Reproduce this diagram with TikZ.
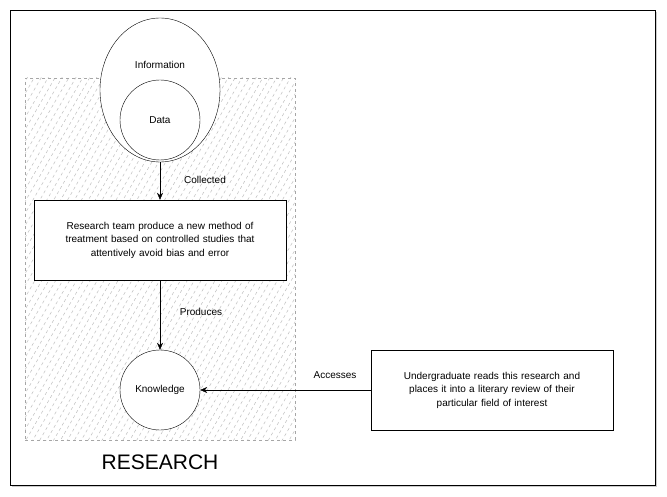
\documentclass[tikz,border=0pt]{standalone}
\usepackage{fontspec}
\setmainfont{Liberation Sans}
\usetikzlibrary{patterns.meta,arrows.meta,shadows,shapes.geometric}
\begin{document}
\begin{tikzpicture}[x=1pt,y=-1pt,
  txt/.style={font=\fontsize{10}{13.5}\selectfont,align=center},
  arr/.style={-{Stealth[length=7pt,width=6pt]},black},
  lbl/.style={font=\fontsize{10}{12}\selectfont}]
\useasboundingbox (0,0) rectangle (667,497);
\fill[white] (0,0) rectangle (667,497);
\node[draw,minimum width=645pt,minimum height=475pt,drop shadow={shadow xshift=2pt,shadow yshift=-2pt,opacity=0.4},fill=white] (frame) at (332.5,247.5) {};
\node[draw=gray!70,dashed,pattern={Lines[angle=60,distance=6pt,line width=0.5pt]},pattern color=gray!50,minimum width=270pt,minimum height=362pt] (research) at (160,259) {};
\node[draw,fill=white,ellipse,minimum width=120pt,minimum height=144pt] (info) at (160,90) {};
\node[txt] (infot) at (160,65) {Information};
\node[draw,circle,fill=white,minimum size=80pt,txt] (data) at (160,120) {Data};
\node[draw,fill=white,minimum width=250pt,minimum height=80pt,txt,text width=245pt] (team) at (160,240) {Research team produce a new method of\\treatment based on controlled studies that\\attentively avoid bias and error};
\node[draw,circle,fill=white,minimum size=80pt,txt] (know) at (160,390) {Knowledge};
\node[draw,fill=white,minimum width=240pt,minimum height=80pt,txt,text width=235pt] (ug) at (492,390) {Undergraduate reads this research and\\places it into a literary review of their\\particular field of interest};
\draw[arr] (info.south) -- (team.north);
\draw[arr] (team.south) -- (know.north);
\draw[arr] (ug.west) -- (know.east);
\node[lbl] (l1) at (205,180) {Collected};
\node[lbl] (l2) at (201,312) {Produces};
\node[lbl] (l3) at (335,375) {Accesses};
\node[font=\fontsize{21}{24}\selectfont] (rt) at (160,462) {RESEARCH};
\end{tikzpicture}
\end{document}
